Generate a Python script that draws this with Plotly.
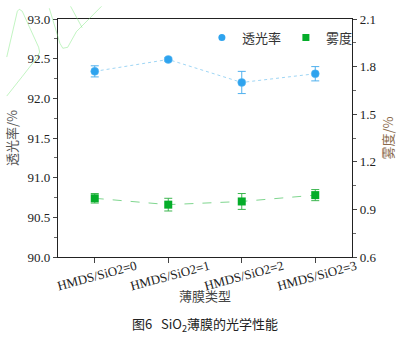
import plotly.graph_objects as go

# Film types on the shared x axis
film_types = ["HMDS/SiO2=0", "HMDS/SiO2=1", "HMDS/SiO2=2", "HMDS/SiO2=3"]

# Transmittance (%) with error
transmittance = [92.34, 92.49, 92.20, 92.31]
transmittance_err = [0.07, 0.02, 0.14, 0.09]

# Haze (%) with error
haze = [0.97, 0.93, 0.95, 0.99]
haze_err = [0.03, 0.04, 0.05, 0.035]

W, H = 406, 338
ML, MR, MT, MB = 53, 49, 13, 81
PW, PH = W - ML - MR, H - MT - MB

FONT = "Liberation Serif, Times New Roman, Noto Sans CJK SC, serif"
CJK = "Noto Sans CJK SC, Liberation Serif, serif"

BLUE, BLUE_LINE = "#2ea3ee", "#9fd6f5"
GREEN, GREEN_LINE = "#05ad2a", "#7fd68f"

xs = list(range(len(film_types)))

fig = go.Figure()

fig.add_trace(go.Scatter(
    x=xs, y=transmittance, name="透光率", showlegend=False,
    mode="lines+markers",
    line=dict(color=BLUE_LINE, width=1, dash="dot"),
    marker=dict(symbol="circle", size=8, color=BLUE,
                line=dict(color="#5cb8f2", width=0.5)),
    error_y=dict(type="data", array=transmittance_err, color="#4fb0ee",
                 thickness=1, width=4),
    yaxis="y",
))

fig.add_trace(go.Scatter(
    x=xs, y=haze, name="雾度", showlegend=False,
    mode="lines+markers",
    line=dict(color=GREEN_LINE, width=1, dash="dash"),
    marker=dict(symbol="square", size=8, color=GREEN),
    error_y=dict(type="data", array=haze_err, color="#3cb64f",
                 thickness=1, width=4),
    yaxis="y2",
))

# Legend entries show the symbols only
fig.add_trace(go.Scatter(x=[None], y=[None], name="透光率", mode="markers",
                         marker=dict(symbol="circle", size=7, color=BLUE)))
fig.add_trace(go.Scatter(x=[None], y=[None], name="雾度", mode="markers",
                         marker=dict(symbol="square", size=7, color=GREEN)))

axis_common = dict(showline=True, linecolor="#222", linewidth=1.2,
                   showgrid=False, zeroline=False,
                   tickfont=dict(family=FONT, size=13, color="#222"),
                   ticks="outside", tickcolor="#444")

fig.update_layout(
    width=W, height=H,
    margin=dict(l=ML, r=MR, t=MT, b=MB),
    paper_bgcolor="white", plot_bgcolor="white",
    showlegend=True,
    legend=dict(orientation="h", x=1.02, y=0.985, xanchor="right", yanchor="top",
                font=dict(family=CJK, size=13, color="#333"),
                bgcolor="rgba(0,0,0,0)", itemwidth=30),
    xaxis=dict(range=[-0.5, 3.5], tickvals=xs, showticklabels=False,
               mirror=True, ticklen=5, **axis_common),
    yaxis=dict(range=[90, 93], dtick=0.5, tickformat=".1f", ticklen=4,
               minor=dict(ticks="outside", ticklen=3, dtick=0.25, tickcolor="#666"),
               title=dict(text="透光率/%", font=dict(family=CJK, size=13, color="#555"),
                          standoff=6),
               **axis_common),
    yaxis2=dict(range=[0.6, 2.1], dtick=0.3, tickformat=".1f", side="right",
                overlaying="y", ticklen=4,
                minor=dict(ticks="outside", ticklen=3, dtick=0.15, tickcolor="#666"),
                title=dict(text="雾度/%", font=dict(family=CJK, size=13, color="#8a6a4a"),
                           standoff=8),
                **axis_common),
)

# Rotated category labels, centred under each tick
for x, lab in zip(xs, film_types):
    fig.add_annotation(x=x, y=0, xref="x", yref="paper", text=lab,
                       showarrow=False, textangle=-15, xanchor="center",
                       yanchor="middle", xshift=2, yshift=-18,
                       font=dict(family=FONT, size=13, color="#222"))

fig.add_annotation(x=0.5, y=0, xref="paper", yref="paper", text="薄膜类型",
                   showarrow=False, xanchor="center", yanchor="middle", yshift=-38,
                   font=dict(family=CJK, size=13, color="#444"))

fig.add_annotation(x=0.5, y=0, xref="paper", yref="paper",
                   text="图6   SiO<sub>2</sub>薄膜的光学性能",
                   showarrow=False, xanchor="center", yanchor="middle", yshift=-67,
                   font=dict(family=CJK, size=13, color="#222"))


# Faint green watermark outlines in the top-left corner
def px(x, y):
    return (x - ML) / PW, (H - MB - y) / PH


def polyline(points):
    parts = []
    for i, (x, y) in enumerate(points):
        u, v = px(x, y)
        parts.append(("M " if i == 0 else "L ") + f"{u:.4f},{v:.4f}")
    return " ".join(parts)


wm = [
    [(0, 52), (11, 5), (13, 3), (16, 5), (33, 42), (34, 47), (31, 53), (16, 72), (0, 92)],
    [(44, 2), (55, 38), (58, 43), (63, 42), (72, 26), (98, 0)],
    [(66, 0), (78, 22)],
]
for pts in wm:
    fig.add_shape(type="path", xref="paper", yref="paper", path=polyline(pts),
                  line=dict(color="rgba(120,230,120,0.45)", width=1), layer="above")

fig.write_html("out.html")
